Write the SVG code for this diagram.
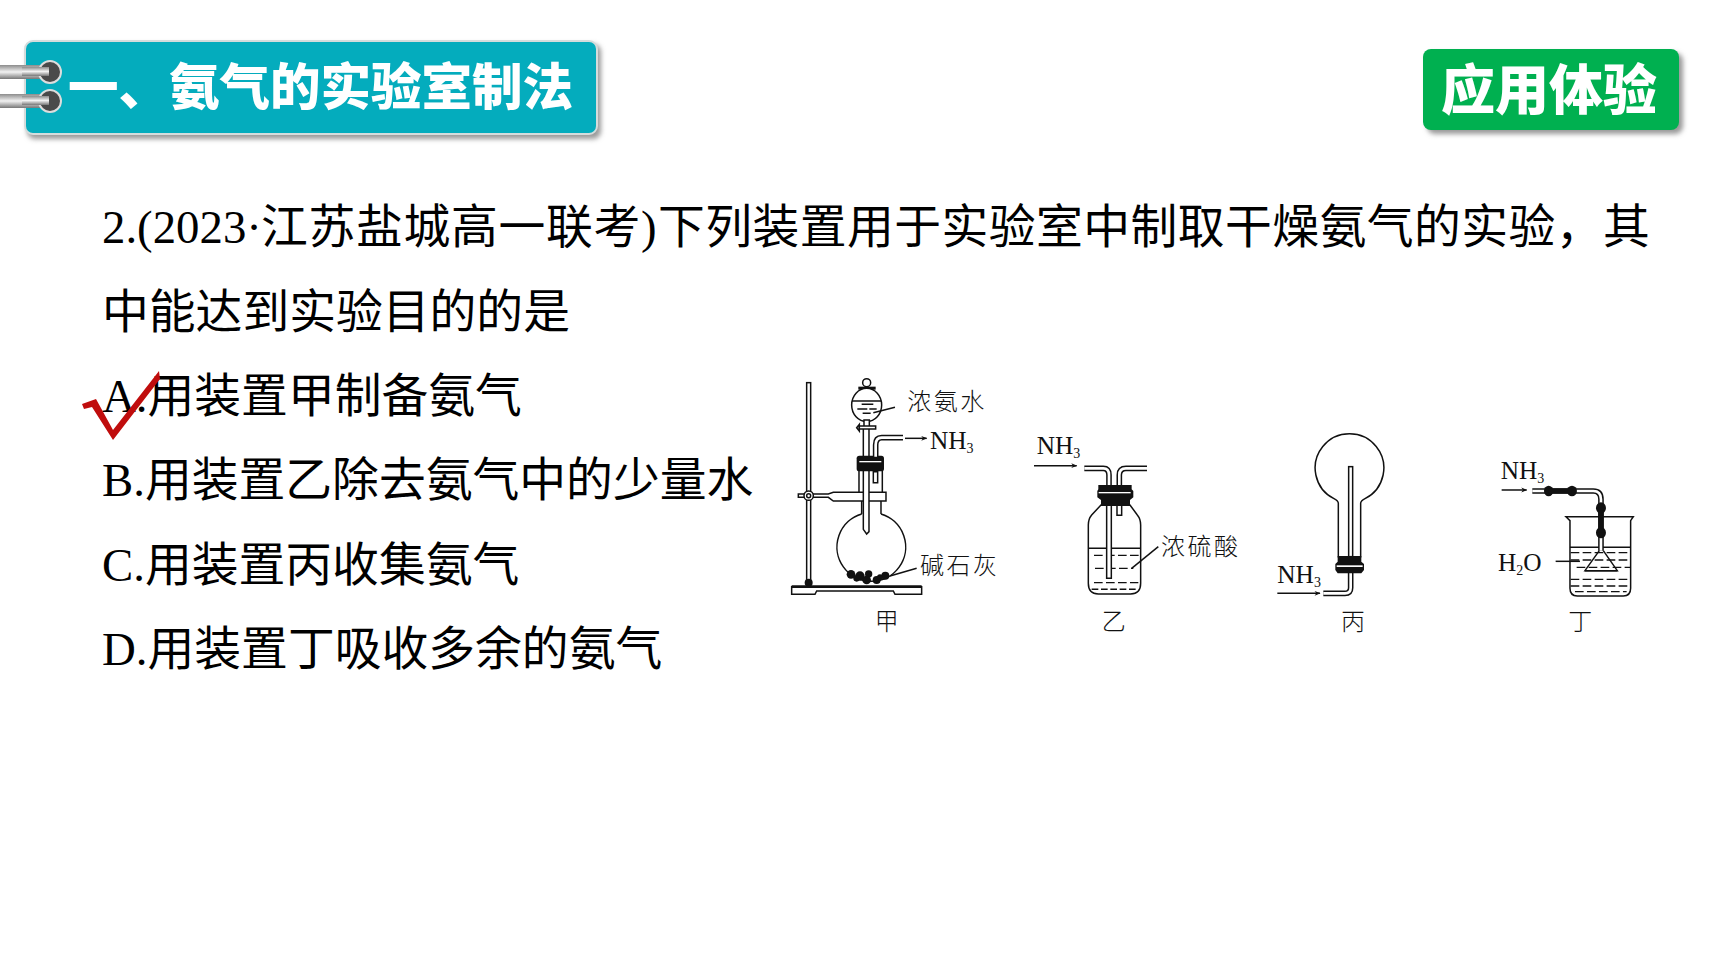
<svg xmlns="http://www.w3.org/2000/svg" width="1728" height="972" viewBox="0 0 1728 972">
<style>
.q{font-family:"Liberation Serif","Noto Sans CJK SC",serif;font-size:46.8px;fill:#000}
.h{font-family:"Noto Sans CJK SC",sans-serif;font-weight:900;fill:#fff}
.l{font-family:"Noto Sans CJK SC",sans-serif;font-weight:300;font-size:72px;letter-spacing:7.5px;fill:#111}
.f{font-family:"Liberation Serif",serif;font-size:76px;fill:#111}
.s{font-size:42px}
.o{fill:none;stroke:#111;stroke-width:4.5}
.w{fill:#fff;stroke:#111;stroke-width:4.5}
.k{fill:#111;stroke:none}
.d{fill:none;stroke:#111;stroke-width:4;stroke-dasharray:26 10}
.tb{fill:none;stroke:#111;stroke-width:17}
.ti{fill:none;stroke:#fff;stroke-width:8}
</style>
<defs>
<filter id="b" x="-5%" y="-20%" width="110%" height="140%"><feGaussianBlur stdDeviation="2.5"/></filter>
<linearGradient id="wire" x1="0" y1="0" x2="0" y2="1"><stop offset="0" stop-color="#8c8c8c"/><stop offset=".5" stop-color="#f2f2f2"/><stop offset="1" stop-color="#777"/></linearGradient>
<marker id="a" viewBox="0 0 10 10" refX="9" refY="5" markerWidth="24" markerHeight="18" markerUnits="userSpaceOnUse" orient="auto"><path d="M0 1L10 5L0 9L3 5Z" fill="#111"/></marker>
</defs>
<rect width="1728" height="972" fill="#fff"/>
<g id="header">
<rect x="27" y="44" width="574" height="95" rx="8" fill="#9a9a9a" filter="url(#b)"/>
<rect x="25" y="41" width="572" height="93" rx="8" fill="#04acbd" stroke="#d5dcdc" stroke-width="2"/>
<rect x="0" y="65" width="48" height="14" fill="url(#wire)"/>
<rect x="0" y="94" width="48" height="14" fill="url(#wire)"/>
<circle cx="50" cy="72" r="11" fill="#4a4a4a" stroke="#ddd" stroke-width="2"/>
<circle cx="50" cy="101" r="11" fill="#4a4a4a" stroke="#ddd" stroke-width="2"/>
<rect x="22" y="67" width="27" height="9" fill="url(#wire)"/>
<rect x="22" y="96" width="27" height="9" fill="url(#wire)"/>
<text class="h" x="68" y="105" font-size="50.5">一、氨气的实验室制法</text>
</g>
<g id="badge">
<rect x="1427" y="53" width="256" height="81" rx="8" fill="#999" filter="url(#b)"/>
<rect x="1423" y="49" width="256" height="81" rx="8" fill="#00b050"/>
<text class="h" x="1441" y="110" font-size="54">应用体验</text>
</g>
<g id="question">
<text class="q" x="102" y="243">2.(2023·<tspan x="261" letter-spacing=".7">江苏盐城高一联考)</tspan><tspan x="658" letter-spacing=".45">下列装置用于实验室中制取干燥氨气的实验，其</tspan></text>
<text class="q" x="102" y="328">中能达到实验目的的是</text>
<text class="q" x="102" y="412">A.用装置甲制备氨气</text>
<text class="q" x="102" y="496">B.用装置乙除去氨气中的少量水</text>
<text class="q" x="102" y="581">C.用装置丙收集氨气</text>
<text class="q" x="102" y="665">D.用装置丁吸收多余的氨气</text>
</g>
<polygon id="check" points="82,404 96,399 113,430 159,371 160,379 113,440 92,407 84,409" fill="#c00d0d"/>
<g id="apparatus-jia" transform="translate(780 360) scale(.3333)">
<rect class="w" x="80" y="68" width="12" height="600"/>
<circle class="k" cx="86" cy="668" r="12"/>
<path class="w" d="M35 680L425 680V703H345L340 693H110L105 703H35Z"/>
<path class="k" d="M35 676H425V684H35Z"/>
<path class="w" d="M245 462A103 103 0 1 0 303 462"/>
<path class="o" d="M237 320V400M307 320V400M245 423V462M303 423V462"/>
<path class="w" d="M55 402H145L160 397H318V423H160L145 412H55Z"/>
<circle class="w" cx="86" cy="407" r="14" stroke-width="5"/>
<circle class="w" cx="86" cy="407" r="6"/>
<path class="w" d="M250 200V508L260 522L267 515V200Z"/>
<path class="w" d="M280 335V368H293V335Z"/>
<rect class="k" x="230" y="287" width="82" height="47" rx="8"/>
<rect x="238" y="303" width="66" height="4" fill="#fff"/>
<path class="tb" d="M369 233H305Q287 233 287 255V290"/>
<path class="ti" d="M369 233H305Q287 233 287 255V290"/>
<circle class="w" cx="260" cy="68" r="12"/>
<rect class="k" x="235" y="80" width="52" height="9"/>
<ellipse class="w" cx="260" cy="135" rx="45" ry="50"/>
<path class="o" d="M216 123H304"/>
<path class="o" d="M245 133H280M232 147H262M268 147H290M248 160H272"/>
<path class="w" d="M252 180V205H268V180Z"/>
<path class="w" d="M230 203L238 193V213Z"/>
<path class="w" d="M238 198H287V207H238Z"/>
<path class="o" d="M280 158L345 142M330 648L410 625"/>
<path class="o" d="M375 235H440" marker-end="url(#a)"/>
<g class="k"><circle cx="213" cy="643" r="13"/><circle cx="240" cy="648" r="14"/><circle cx="266" cy="642" r="11"/><circle cx="260" cy="660" r="13"/><circle cx="290" cy="660" r="12"/><circle cx="316" cy="647" r="12"/><circle cx="230" cy="655" r="10"/><circle cx="300" cy="652" r="9"/></g>
<text class="l" x="382" y="150">浓氨水</text>
<text class="f" x="450" y="266">NH<tspan class="s" dy="12">3</tspan></text>
<text class="l" x="420" y="642">碱石灰</text>
<text class="l" x="284" y="809">甲</text>
</g>
<g id="apparatus-yi" transform="translate(1020 420) scale(.3333)">
<path class="w" d="M243 255L215 285Q205 297 205 315V490Q205 522 235 522H332Q362 522 362 490V315Q362 297 352 285L330 255Z"/>
<path class="o" d="M205 385H362"/>
<path class="d" d="M222 406H358M225 445H340M222 488H355"/>
<path class="o" d="M215 508H355" stroke-width="5" stroke-dasharray="20 8"/>
<path class="w" d="M260 250V475H274V250Z"/>
<path class="w" d="M291 250V286H305V250Z"/>
<path class="tb" d="M193 145H250Q267 145 267 165V200"/>
<path class="ti" d="M193 145H250Q267 145 267 165V200"/>
<path class="tb" d="M381 145H318Q298 145 298 165V200"/>
<path class="ti" d="M381 145H318Q298 145 298 165V200"/>
<path class="k" d="M235 195H335V208L340 213V232L330 240V258H243V240L232 232V213L235 208Z"/>
<rect x="236" y="216" width="96" height="4" fill="#fff"/>
<path class="o" d="M335 445L415 380"/>
<path class="o" d="M42 137H170" marker-end="url(#a)"/>
<text class="f" x="50" y="103">NH<tspan class="s" dy="12">3</tspan></text>
<text class="l" x="423" y="405">浓硫酸</text>
<text class="l" x="245" y="630">乙</text>
</g>
<g id="apparatus-bing" transform="translate(1260 420) scale(.3333)">
<path class="w" d="M235 250Q235 243 222 236A103 103 0 1 1 315 236Q302 243 302 250V410H235Z"/>
<rect class="w" x="266" y="140" width="12" height="270"/>
<path class="tb" d="M190 520H255Q272 520 272 503V458"/>
<path class="ti" d="M190 520H255Q272 520 272 503V458"/>
<path class="k" d="M233 408H304V425L312 432V450L304 460H233L226 450V432L233 425Z"/>
<rect x="230" y="436" width="78" height="5" fill="#fff"/>
<path class="o" d="M52 520H180" marker-end="url(#a)"/>
<text class="f" x="52" y="488">NH<tspan class="s" dy="12">3</tspan></text>
<text class="l" x="243" y="630">丙</text>
</g>
<g id="apparatus-ding" transform="translate(1260 420) scale(.3333)">
<path class="w" d="M918 290H1120L1112 302V505Q1112 528 1090 528H952Q930 528 930 505V302Z"/>
<path class="o" d="M930 382H1112"/>
<path class="d" d="M932 398H1112M932 420H1112M950 442H1112M932 478H1112M932 498H1112M945 515H1100"/>
<path class="tb" d="M817 213H1000Q1023 213 1023 238V392"/>
<path class="ti" d="M817 213H1000Q1023 213 1023 238V392"/>
<path class="o" d="M1018 392L975 452H1072L1030 392" stroke-width="6"/>
<path class="o" d="M975 452H1072" stroke-width="7"/>
<g class="k"><ellipse cx="866" cy="213" rx="14" ry="16"/><ellipse cx="936" cy="213" rx="15" ry="16"/><rect x="866" y="205" width="70" height="16"/><ellipse cx="1023" cy="264" rx="15" ry="17"/><ellipse cx="1023" cy="338" rx="15" ry="17"/><rect x="1015" y="264" width="16" height="74"/></g>
<path class="o" d="M887 424H960"/>
<path class="o" d="M725 210H800" marker-end="url(#a)"/>
<text class="f" x="722" y="178">NH<tspan class="s" dy="12">3</tspan></text>
<text class="f" x="714" y="452">H<tspan class="s" dy="12">2</tspan><tspan dy="-12">O</tspan></text>
<text class="l" x="925" y="630">丁</text>
</g>
</svg>
